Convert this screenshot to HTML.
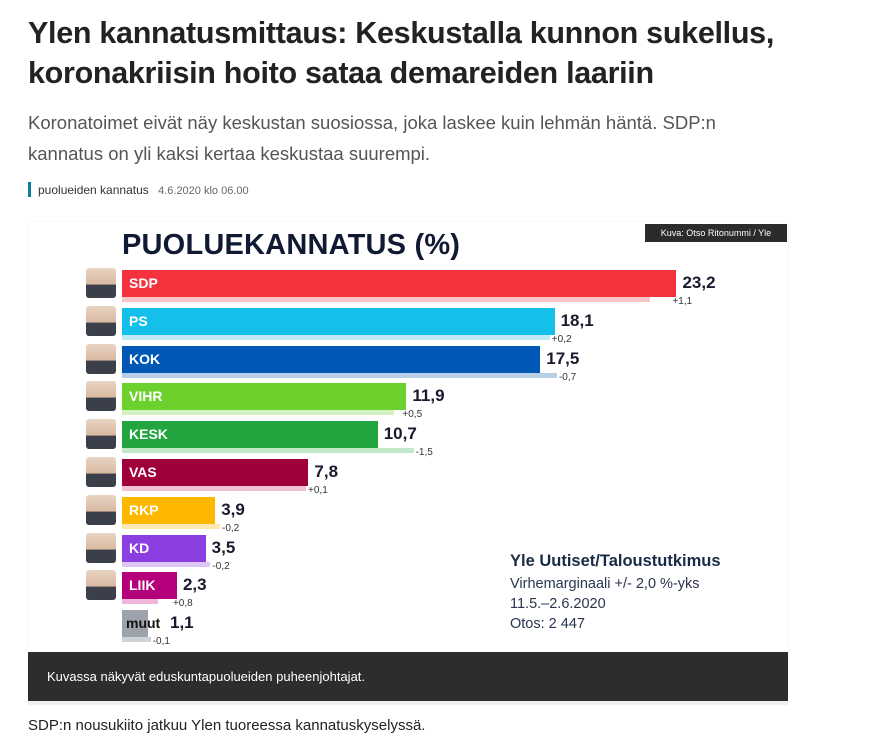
<!DOCTYPE html>
<html><head><meta charset="utf-8"><style>
body{margin:0;width:887px;height:752px;background:#fff;font-family:"Liberation Sans",sans-serif;position:relative;overflow:hidden}
.a{position:absolute}
h1{position:absolute;left:28px;top:13px;margin:0;font-size:30.5px;line-height:40px;font-weight:bold;color:#222;letter-spacing:-0.3px}
.sub{left:28px;top:107px;font-size:18.5px;line-height:31px;color:#555;width:760px}
.bar{position:absolute;height:27px;color:#fff;font-weight:bold;font-size:14px;line-height:27px;padding-left:7px;box-sizing:border-box}
.sh{position:absolute;height:5px}
.v{position:absolute;font-weight:bold;font-size:17px;color:#1a1a2e}
.c{position:absolute;font-size:10px;color:#333}
.av{position:absolute;left:86px;width:30px;height:30px;border-radius:3px;background:linear-gradient(#e8d5c4 0,#d9b8a0 55%,#3a3f4a 56%)}
</style></head><body>
<h1>Ylen kannatusmittaus: Keskustalla kunnon sukellus,<br>koronakriisin hoito sataa demareiden laariin</h1>
<div class="a sub">Koronatoimet eivät näy keskustan suosiossa, joka laskee kuin lehmän häntä. SDP:n kannatus on yli kaksi kertaa keskustaa suurempi.</div>
<div class="a" style="left:28px;top:182px;width:3px;height:15px;background:#0a7e9c"></div>
<div class="a" style="left:38px;top:183px;font-size:12px;color:#333">puolueiden kannatus <span style="color:#666;margin-left:6px;font-size:11px">4.6.2020 klo 06.00</span></div>
<div class="a" style="left:28px;top:222px;width:760px;height:430px;background:#fff;box-shadow:0 0 1px #ddd"></div>
<div class="a" style="left:122px;top:229px;font-size:29px;font-weight:900;color:#111a33;letter-spacing:0.2px">PUOLUEKANNATUS (%)</div>
<div class="a" style="left:645px;top:224px;width:142px;height:18px;background:#2b2b2b;color:#fff;font-size:9px;line-height:18px;text-align:center">Kuva: Otso Ritonummi / Yle</div>
<div id="rows"></div>
<div class="a" style="left:510px;top:552px;color:#1a2a44;font-size:16.5px;font-weight:bold">Yle Uutiset/Taloustutkimus</div>
<div class="a" style="left:510px;top:574px;color:#2a3550;font-size:14.5px;line-height:20px">Virhemarginaali +/- 2,0 %-yks<br>11.5.–2.6.2020<br>Otos: 2 447</div>
<div class="a" style="left:28px;top:652px;width:760px;height:49px;background:#2c2e2e;color:#fff;font-size:13px;line-height:49px;padding-left:19px;box-sizing:border-box">Kuvassa näkyvät eduskuntapuolueiden puheenjohtajat.</div>
<div class="a" style="left:28px;top:701px;width:760px;height:4px;background:#f0f0f0"></div>
<div class="a" style="left:28px;top:717px;font-size:15px;color:#222">SDP:n nousukiito jatkuu Ylen tuoreessa kannatuskyselyssä.</div>
<script>
var d=[["SDP",23.2,"+1,1","#f5333f","#f7c4c8"],["PS",18.1,"+0,2","#14c0ea","#bfe9f7"],["KOK",17.5,"-0,7","#0057b4","#b8cfe8"],["VIHR",11.9,"+0,5","#6dd12d","#d3f0c0"],["KESK",10.7,"-1,5","#22a53e","#c3e7c9"],["VAS",7.8,"+0,1","#a0003a","#f0c2d4"],["RKP",3.9,"-0,2","#ffb800","#ffe9b3"],["KD",3.5,"-0,2","#8b3fe0","#ddc6f6"],["LIIK",2.3,"+0,8","#b4007a","#efb6d9"],["muut",1.1,"-0,1","#9da3aa","#cfd3d8"]];
var h="",s=23.9;
d.forEach(function(r,i){var y=270+i*37.8,w=r[1]*s,p=(r[1]-parseFloat(r[2].replace(",",".")))*s;
if(i<9)h+='<div class="av" style="top:'+(y-2)+'px"></div>';
h+='<div class="sh" style="left:122px;top:'+(y+27)+'px;width:'+p+'px;background:'+r[4]+'"></div>';
h+='<div class="bar" style="left:122px;top:'+y+'px;width:'+w+'px;background:'+r[3]+(i==9?';color:#111;padding-left:4px':'')+'">'+r[0]+'</div>';
h+='<div class="v" style="left:'+(122+Math.max(w,i==9?42:0)+6)+'px;top:'+(y+3)+'px">'+r[1].toFixed(1).replace(".",",")+'</div>';
h+='<div class="c" style="left:'+(122+Math.max(p,w-6)+2)+'px;top:'+(y+26)+'px">'+r[2]+'</div>';});
document.getElementById("rows").innerHTML=h;
</script>
</body></html>
